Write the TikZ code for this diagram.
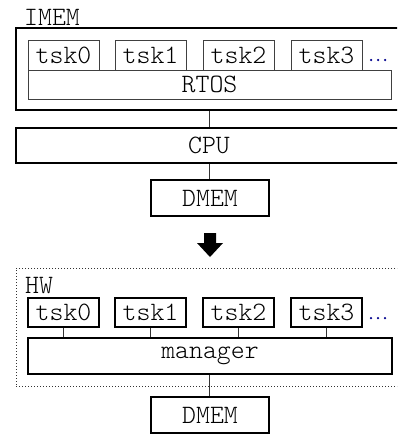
\documentclass[tikz,border=0pt]{standalone}
\usepackage{fontspec}
\setmonofont{Latin Modern Mono Light}
\begin{document}
\begin{tikzpicture}[x=1pt,y=-1pt,
  every node/.style={inner sep=0pt, font=\ttfamily\fontsize{26.5}{28}\selectfont},
  thinbox/.style={draw=black!75, line width=1pt, rectangle},
  thickbox/.style={draw=black, line width=2pt, rectangle},
  wire/.style={draw=black!80, line width=1pt},
  dotsym/.style={fill=blue!55!black, circle, minimum size=2.5pt}]
\useasboundingbox (0,0) rectangle (397,434);
\clip (0,0) rectangle (397,434);

% software side: tasks on an RTOS inside instruction memory
\node[anchor=west] (imemlbl) at (24,17) {IMEM};
\node[thickbox, minimum width=384, minimum height=82] (imem) at (208,69) {};
\node[thinbox, minimum width=71, minimum height=30] (t0) at (63.5,55) {tsk0};
\node[thinbox, minimum width=71, minimum height=30] (t1) at (150.5,55) {tsk1};
\node[thinbox, minimum width=71, minimum height=30] (t2) at (238.5,55) {tsk2};
\node[thinbox, minimum width=71, minimum height=30] (t3) at (326.5,55) {tsk3};
\node[dotsym] (sd1) at (371,60) {};
\node[dotsym] (sd2) at (378,60) {};
\node[dotsym] (sd3) at (385,60) {};
\node[thinbox, minimum width=363, minimum height=29] (rtos) at (209.5,84.5) {RTOS};

\node[thickbox, minimum width=384, minimum height=35] (cpu) at (208,145.5) {};
\node (cpulbl) at (209,145.5) {CPU};
\node[thickbox, minimum width=118, minimum height=36] (dmem) at (210,198) {DMEM};

\draw[wire] (imem.south -| cpulbl) -- (cpu.north -| cpulbl);
\draw[wire] (cpu.south -| cpulbl) -- (dmem.north -| cpulbl);

% transformation arrow
\coordinate (arr) at (210,233);
\fill[black] (arr) ++(-6,0) -- ++(12,0) -- ++(0,10) -- ++(7,0) -- ++(-13,14)
  -- ++(-13,-14) -- ++(7,0) -- cycle;

% hardware side: task modules around a manager
\node[draw=black!80, dotted, line width=1pt, rectangle, minimum width=384, minimum height=118] (hw) at (208,327) {};
\node[anchor=west] (hwlbl) at (25,286) {HW};
\node[thickbox, minimum width=71, minimum height=29] (h0) at (63.5,312.5) {tsk0};
\node[thickbox, minimum width=71, minimum height=29] (h1) at (150.5,312.5) {tsk1};
\node[thickbox, minimum width=71, minimum height=29] (h2) at (238.5,312.5) {tsk2};
\node[thickbox, minimum width=71, minimum height=29] (h3) at (326.5,312.5) {tsk3};
\node[dotsym] (hd1) at (371,318) {};
\node[dotsym] (hd2) at (378,318) {};
\node[dotsym] (hd3) at (385,318) {};
\node[thickbox, minimum width=364, minimum height=36] (mgr) at (210,356) {manager};
\node[thickbox, minimum width=118, minimum height=36] (dmem2) at (210,415) {DMEM};

\foreach \t in {h0,h1,h2,h3} \draw[wire] (\t.south) -- (mgr.north -| \t);
\draw[wire] (mgr.south -| cpulbl) -- (dmem2.north -| cpulbl);
\end{tikzpicture}
\end{document}
